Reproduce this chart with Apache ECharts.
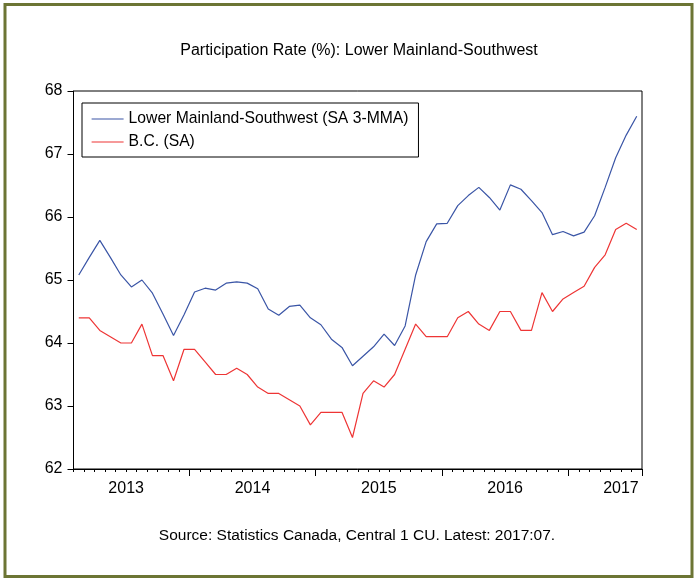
<!DOCTYPE html>
<html>
<head>
<meta charset="utf-8">
<script src="https://cdn.jsdelivr.net/npm/echarts@6/dist/echarts.min.js"></script>
<style>
  html, body { margin: 0; padding: 0; background: #fff; }
  #chart { width: 694px; height: 578px; }
</style>
</head>
<body>
<div id="chart"></div>
<script>
// Monthly observations, 2013:02 to 2017:07
const months = [];
for (let y = 2013; y <= 2017; y++) {
  for (let m = 1; m <= 12; m++) {
    if ((y === 2013 && m < 2) || (y === 2017 && m > 7)) continue;
    months.push(y + '-' + String(m).padStart(2, '0'));
  }
}

const lowerMainland = [
  65.08, 65.36, 65.63, 65.36, 65.08, 64.89, 65.00, 64.79, 64.46, 64.12, 64.45,
  64.81, 64.87, 64.84, 64.95, 64.97, 64.95, 64.86, 64.54, 64.44, 64.58, 64.60, 64.40, 64.29,
  64.06, 63.93, 63.64, 63.79, 63.94, 64.14, 63.96, 64.27, 65.08, 65.61, 65.89, 65.90,
  66.18, 66.34, 66.47, 66.31, 66.11, 66.51, 66.44, 66.26, 66.07, 65.72, 65.77, 65.70,
  65.76, 66.02, 66.47, 66.94, 67.30, 67.60
];

const bcRate = [
  64.4, 64.4, 64.2, 64.1, 64.0, 64.0, 64.3, 63.8, 63.8, 63.4, 63.9,
  63.9, 63.7, 63.5, 63.5, 63.6, 63.5, 63.3, 63.2, 63.2, 63.1, 63.0, 62.7, 62.9,
  62.9, 62.9, 62.5, 63.2, 63.4, 63.3, 63.5, 63.9, 64.3, 64.1, 64.1, 64.1,
  64.4, 64.5, 64.3, 64.2, 64.5, 64.5, 64.2, 64.2, 64.8, 64.5, 64.7, 64.8,
  64.9, 65.2, 65.4, 65.8, 65.9, 65.8
];

// year labels sit on these months (shifted half a month left by padding)
const yearLabelMonths = ['2013-07', '2014-07', '2015-07', '2016-07', '2017-06'];

const FONT = 'Liberation Sans';

const chart = echarts.init(document.getElementById('chart'));

const option = {
  backgroundColor: '#fff',
  animation: false,
  textStyle: { fontFamily: FONT },
  grid: {
    left: 73.5,
    top: 91,
    right: 52,
    bottom: 109,
    show: true,
    borderColor: '#000',
    borderWidth: 1,
  },
  legend: {
    orient: 'vertical',
    left: 82,
    top: 103,
    padding: [8, 10, 7, 9],
    itemGap: 7,
    itemWidth: 32,
    itemHeight: 14,
    borderColor: '#000',
    borderWidth: 1,
    itemStyle: { opacity: 0 },
    lineStyle: { width: 1.2 },
    textStyle: { fontFamily: FONT, fontSize: 15.7, color: '#000' },
    data: ['Lower Mainland-Southwest (SA 3-MMA)', 'B.C. (SA)'],
  },
  xAxis: [
    {
      type: 'category',
      data: months,
      boundaryGap: true,
      axisLine: { show: true, lineStyle: { color: '#000', width: 1 } },
      axisTick: {
        show: true,
        inside: false,
        alignWithLabel: false,
        interval: 0,
        length: 3,
        lineStyle: { color: '#000', width: 1 },
      },
      axisLabel: { show: false },
      splitLine: { show: false },
    },
    {
      type: 'category',
      data: months,
      position: 'bottom',
      boundaryGap: true,
      axisLine: { show: false },
      axisTick: {
        show: true,
        inside: false,
        length: 7,
        interval: (i, v) => v.endsWith('-01'),
        lineStyle: { color: '#000', width: 1 },
      },
      axisLabel: {
        interval: (i, v) => yearLabelMonths.includes(v),
        formatter: (v) => v.slice(0, 4),
        margin: 12,
        padding: [0, 10.5, 0, 0],
        fontSize: 16,
        color: '#000',
        fontFamily: FONT,
      },
      splitLine: { show: false },
    },
  ],
  yAxis: {
    type: 'value',
    min: 62,
    max: 68,
    interval: 1,
    axisLine: { show: true, lineStyle: { color: '#000', width: 1 } },
    axisTick: { show: true, inside: false, length: 6, lineStyle: { color: '#000', width: 1 } },
    axisLabel: { fontSize: 16, color: '#000', margin: 11, fontFamily: FONT },
    splitLine: { show: false },
  },
  series: [
    {
      name: 'Lower Mainland-Southwest (SA 3-MMA)',
      type: 'line',
      data: lowerMainland,
      symbol: 'none',
      lineStyle: { color: '#3a55a6', width: 1.2 },
      itemStyle: { color: '#3a55a6' },
    },
    {
      name: 'B.C. (SA)',
      type: 'line',
      data: bcRate,
      symbol: 'none',
      lineStyle: { color: '#ee3535', width: 1.2 },
      itemStyle: { color: '#ee3535' },
    },
  ],
  graphic: [
    {
      type: 'rect',
      shape: { x: 5, y: 4.5, width: 687, height: 572 },
      style: { fill: 'none', stroke: '#6c7534', lineWidth: 3 },
      silent: true,
    },
    {
      type: 'text',
      x: 359,
      y: 51,
      style: {
        text: 'Participation Rate (%): Lower Mainland-Southwest',
        fontFamily: FONT,
        fontSize: 16,
        fill: '#000',
        align: 'center',
        verticalAlign: 'middle',
      },
    },
    {
      type: 'text',
      x: 357,
      y: 536,
      style: {
        text: 'Source: Statistics Canada, Central 1 CU. Latest: 2017:07.',
        fontFamily: FONT,
        fontSize: 15.5,
        fill: '#000',
        align: 'center',
        verticalAlign: 'middle',
      },
    },
  ],
};

chart.setOption(option);
</script>
</body>
</html>
